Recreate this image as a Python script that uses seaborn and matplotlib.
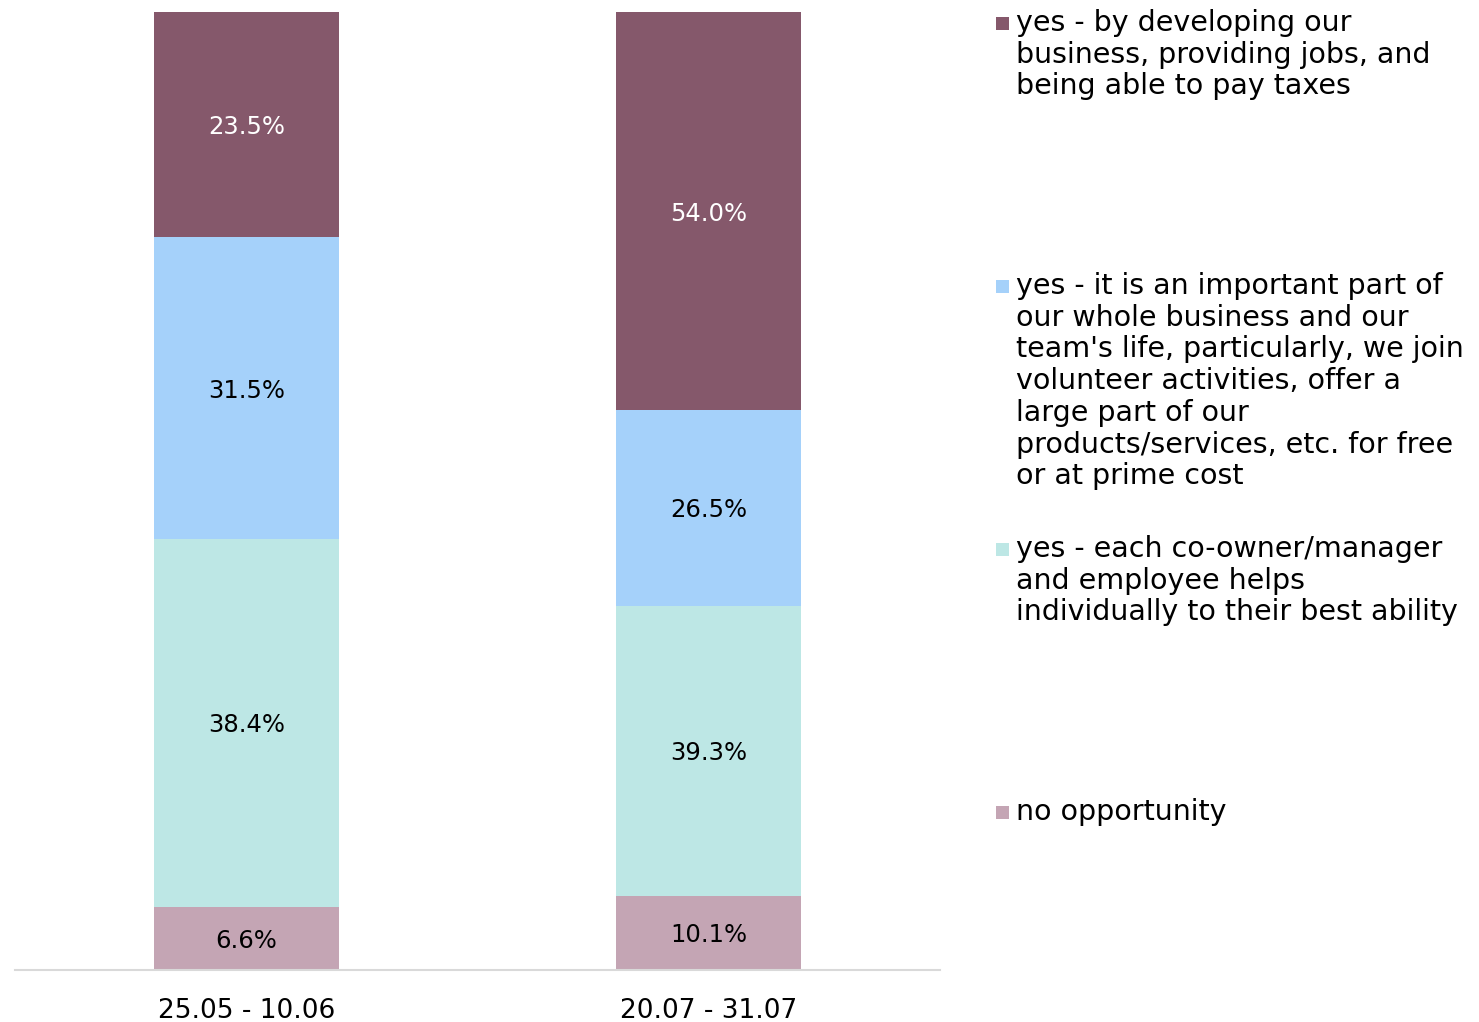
import matplotlib
matplotlib.use("Agg")
import matplotlib.pyplot as plt
from matplotlib.patches import Rectangle
import numpy as np
import pandas as pd
import seaborn as sns

# Survey waves and answer shares (%)
periods = ["25.05 - 10.06", "20.07 - 31.07"]
categories = [
    "yes - by developing our\nbusiness, providing jobs, and\nbeing able to pay taxes",
    "yes - it is an important part of\nour whole business and our\nteam's life, particularly, we join\nvolunteer activities, offer a\nlarge part of our\nproducts/services, etc. for free\nor at prime cost",
    "yes - each co-owner/manager\nand employee helps\nindividually to their best ability",
    "no opportunity",
]
by_business = [23.5, 54.0]
important_part = [31.5, 26.5]
individually = [38.4, 39.3]
no_opportunity = [6.6, 10.1]

colors = ["#85586B", "#A5D1FA", "#BDE7E5", "#C4A5B4"]
label_colors = ["white", "black", "black", "black"]

sns.set_theme(style="white")
plt.rcParams["font.family"] = ["DejaVu Sans"]

series = [by_business, important_part, individually, no_opportunity]
vals = np.array(series, dtype=float)          # shape (4 categories, 2 periods)
shares = vals / vals.sum(axis=0) * 100        # 100% stacked

fig = plt.figure(figsize=(14.79, 10.22), dpi=100)
ax = fig.add_axes([15 / 1479, 52 / 1022, 925 / 1479, 958 / 1022])

# stacked bars: draw cumulative tops from the top layer down
for i in range(len(categories)):
    cum = shares[i:].sum(axis=0)
    df = pd.DataFrame({"period": periods, "value": cum})
    sns.barplot(data=df, x="period", y="value", color=colors[i],
                width=0.4, saturation=1, ax=ax, linewidth=0)

# value labels centred in each segment
for i in range(len(categories)):
    bottoms = shares[i + 1:].sum(axis=0)
    for j in range(len(periods)):
        y = bottoms[j] + shares[i, j] / 2
        ax.text(j, y, f"{vals[i, j]:.1f}%", ha="center", va="center_baseline",
                fontsize=17.5, color=label_colors[i])

ax.set_xlim(-0.5, 1.5)
ax.set_ylim(0, 100)
ax.set_xlabel("")
ax.set_ylabel("")
ax.set_yticks([])
for s in ["top", "left", "right"]:
    ax.spines[s].set_visible(False)
ax.spines["bottom"].set_color("#D9D9D9")
ax.spines["bottom"].set_linewidth(1.5)
ax.tick_params(axis="x", length=0, pad=20, labelsize=19, colors="black")

# legend on the right: evenly spaced entries
legend_x_sq = 996 / 1479
legend_x_txt = 1016 / 1479
first_top = 9
step = 263
for i, cat in enumerate(categories):
    top_px = first_top + i * step
    fig.patches.append(Rectangle((legend_x_sq, 1 - (top_px + 21) / 1022),
                                 13 / 1479, 13 / 1022, transform=fig.transFigure,
                                 facecolor=colors[i], edgecolor="none"))
    fig.text(legend_x_txt, 1 - top_px / 1022, cat, ha="left", va="top",
             fontsize=20.5, color="black", linespacing=1.17)

fig.savefig("out.png", dpi=100)
